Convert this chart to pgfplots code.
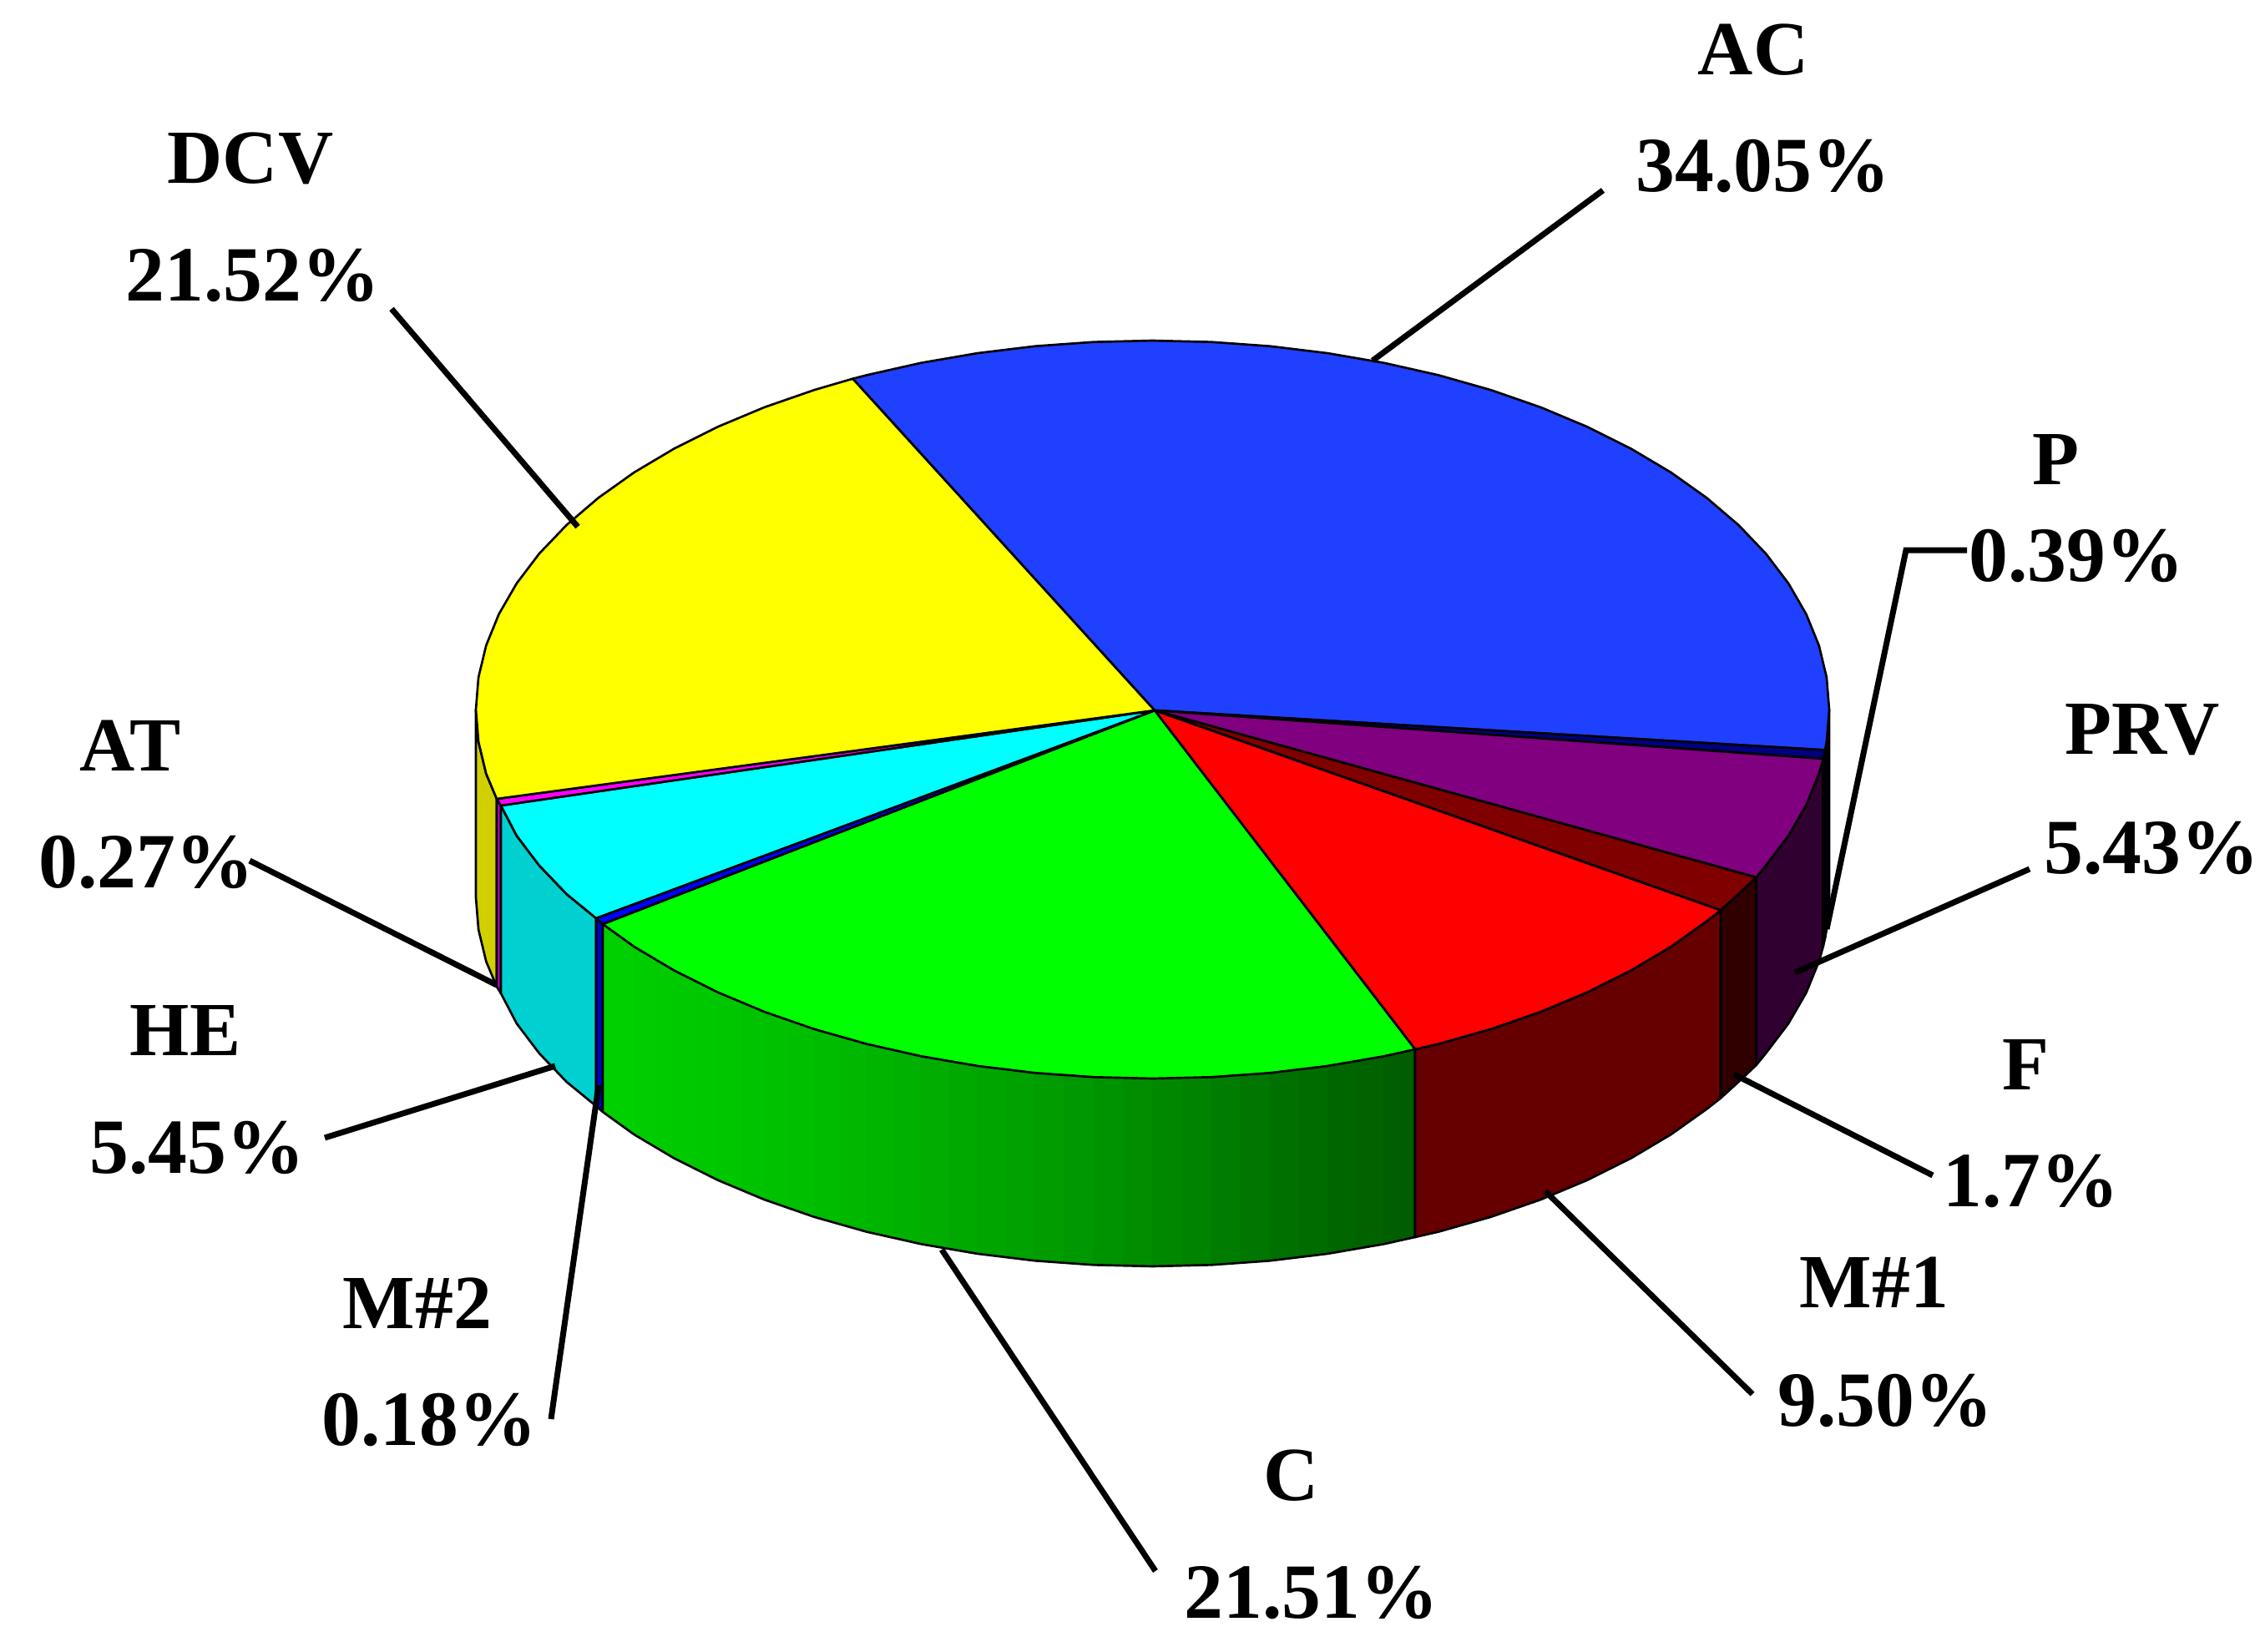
\documentclass[border=0pt]{standalone}
\usepackage{pgfplots}
\pgfplotsset{compat=1.18}
\usepackage{fontspec}
\setmainfont{Liberation Serif}
\definecolor{cAC}{RGB}{32,64,255}
\definecolor{cDCV}{RGB}{255,255,0}
\definecolor{cAT}{RGB}{255,0,255}
\definecolor{cHE}{RGB}{0,255,255}
\definecolor{cM2}{RGB}{0,0,255}
\definecolor{cC}{RGB}{0,255,0}
\definecolor{cM1}{RGB}{255,0,0}
\definecolor{cF}{RGB}{128,0,0}
\definecolor{cPRV}{RGB}{128,0,128}
\definecolor{cP}{RGB}{0,0,128}
\definecolor{sAC}{RGB}{0,0,16}
\definecolor{sDCV}{RGB}{208,208,0}
\definecolor{sAT}{RGB}{204,0,204}
\definecolor{sHE}{RGB}{0,208,208}
\definecolor{sM2}{RGB}{0,0,200}
\definecolor{sM1}{RGB}{102,0,0}
\definecolor{sF}{RGB}{48,0,0}
\definecolor{sPRV}{RGB}{48,0,48}
\definecolor{sP}{RGB}{0,0,48}
\pgfplotsset{
  face/.style={fill=#1,draw=black,line width=0.8pt,line join=round},
  strip/.style={fill=green!#1!black,draw=green!#1!black,line width=0.3pt},
  leader/.style={draw=black,line width=2.1pt},
  thin outline/.style={draw=black,line width=0.8pt,line join=round}
}
\newcommand{\lab}[3]{\node[font=\bfseries\fontsize{27.5}{30}\selectfont,inner sep=0pt,anchor=center] at (axis cs:#1,#2) {#3};}
\newcommand{\labn}[3]{\node[font=\bfseries\fontsize{28.1}{30}\selectfont,inner sep=0pt,anchor=center] at (axis cs:#1,#2) {#3};}
\begin{document}
\begin{tikzpicture}
\begin{axis}[
  scale only axis,width=813.9pt,height=593.7pt,
  xmin=0,xmax=2713,ymin=0,ymax=1979,y dir=reverse,
  axis line style={draw=none},xtick=\empty,ytick=\empty,clip=false]
% side faces
\addplot[face=sDCV] coordinates {(570,850)(573.1,888.5)(582.3,926.8)(595,957)(595,1182)(582.3,1151.8)(573.1,1113.5)(570,1075)} --cycle;
\addplot[face=sAT] coordinates {(595,957)(600,965)(600,1190)(595,1182)} --cycle;
\addplot[face=sHE] coordinates {(600,965)(618.9,1001.2)(645.9,1036.8)(678.6,1071)(714,1100)(714,1325)(678.6,1296)(645.9,1261.8)(618.9,1226.2)(600,1190)} --cycle;
\addplot[face=sM2] coordinates {(714,1100)(722,1107)(722,1332)(714,1325)} --cycle;
% C side, shaded in strips
\addplot[strip=81.7] coordinates {(722,1107)(740.8,1120.55)(740.8,1345.55)(722,1332)} --cycle;
\addplot[strip=81.2] coordinates {(740.8,1120.55)(759.6,1134.1)(759.6,1359.1)(740.8,1345.55)} --cycle;
\addplot[strip=80.5] coordinates {(759.6,1134.1)(783.5,1148.3)(783.5,1373.3)(759.6,1359.1)} --cycle;
\addplot[strip=79.8] coordinates {(783.5,1148.3)(807.4,1162.5)(807.4,1387.5)(783.5,1373.3)} --cycle;
\addplot[strip=79] coordinates {(807.4,1162.5)(833.45,1175.55)(833.45,1400.55)(807.4,1387.5)} --cycle;
\addplot[strip=78.3] coordinates {(833.45,1175.55)(859.5,1188.6)(859.5,1413.6)(833.45,1400.55)} --cycle;
\addplot[strip=77.5] coordinates {(859.5,1188.6)(887.55,1200.35)(887.55,1425.35)(859.5,1413.6)} --cycle;
\addplot[strip=76.6] coordinates {(887.55,1200.35)(915.6,1212.1)(915.6,1437.1)(887.55,1425.35)} --cycle;
\addplot[strip=75.8] coordinates {(915.6,1212.1)(945.4,1222.45)(945.4,1447.45)(915.6,1437.1)} --cycle;
\addplot[strip=74.9] coordinates {(945.4,1222.45)(975.2,1232.8)(975.2,1457.8)(945.4,1447.45)} --cycle;
\addplot[strip=73.6] coordinates {(975.2,1232.8)(1006.6,1241.7)(1006.6,1466.7)(975.2,1457.8)} --cycle;
\addplot[strip=72.2] coordinates {(1006.6,1241.7)(1038,1250.6)(1038,1475.6)(1006.6,1466.7)} --cycle;
\addplot[strip=70.8] coordinates {(1038,1250.6)(1070.65,1257.95)(1070.65,1482.95)(1038,1475.6)} --cycle;
\addplot[strip=69.3] coordinates {(1070.65,1257.95)(1103.3,1265.3)(1103.3,1490.3)(1070.65,1482.95)} --cycle;
\addplot[strip=67.8] coordinates {(1103.3,1265.3)(1137,1271.1)(1137,1496.1)(1103.3,1490.3)} --cycle;
\addplot[strip=66.2] coordinates {(1137,1271.1)(1170.7,1276.9)(1170.7,1501.9)(1137,1496.1)} --cycle;
\addplot[strip=64.7] coordinates {(1170.7,1276.9)(1205.25,1281.1)(1205.25,1506.1)(1170.7,1501.9)} --cycle;
\addplot[strip=63.1] coordinates {(1205.25,1281.1)(1239.8,1285.3)(1239.8,1510.3)(1205.25,1506.1)} --cycle;
\addplot[strip=61.3] coordinates {(1239.8,1285.3)(1274.85,1287.8)(1274.85,1512.8)(1239.8,1510.3)} --cycle;
\addplot[strip=59.5] coordinates {(1274.85,1287.8)(1309.9,1290.3)(1309.9,1515.3)(1274.85,1512.8)} --cycle;
\addplot[strip=57.6] coordinates {(1309.9,1290.3)(1345.2,1291.15)(1345.2,1516.15)(1309.9,1515.3)} --cycle;
\addplot[strip=55.7] coordinates {(1345.2,1291.15)(1380.5,1292)(1380.5,1517)(1345.2,1516.15)} --cycle;
\addplot[strip=53.8] coordinates {(1380.5,1292)(1415.8,1291.15)(1415.8,1516.15)(1380.5,1517)} --cycle;
\addplot[strip=51.6] coordinates {(1415.8,1291.15)(1451.1,1290.3)(1451.1,1515.3)(1415.8,1516.15)} --cycle;
\addplot[strip=49.1] coordinates {(1451.1,1290.3)(1486.15,1287.8)(1486.15,1512.8)(1451.1,1515.3)} --cycle;
\addplot[strip=46.6] coordinates {(1486.15,1287.8)(1521.2,1285.3)(1521.2,1510.3)(1486.15,1512.8)} --cycle;
\addplot[strip=44.1] coordinates {(1521.2,1285.3)(1555.75,1281.1)(1555.75,1506.1)(1521.2,1510.3)} --cycle;
\addplot[strip=42.3] coordinates {(1555.75,1281.1)(1590.3,1276.9)(1590.3,1501.9)(1555.75,1506.1)} --cycle;
\addplot[strip=40.5] coordinates {(1590.3,1276.9)(1624,1271.1)(1624,1496.1)(1590.3,1501.9)} --cycle;
\addplot[strip=38.7] coordinates {(1624,1271.1)(1657.7,1265.3)(1657.7,1490.3)(1624,1496.1)} --cycle;
\addplot[strip=37.3] coordinates {(1657.7,1265.3)(1676.35,1261.15)(1676.35,1486.15)(1657.7,1490.3)} --cycle;
\addplot[strip=36.3] coordinates {(1676.35,1261.15)(1695,1257)(1695,1482)(1676.35,1486.15)} --cycle;
\addplot[thin outline] coordinates {(722,1107)(722,1332)(759.6,1359.1)(807.4,1387.5)(859.5,1413.6)(915.6,1437.1)(975.2,1457.8)(1038,1475.6)(1103.3,1490.3)(1170.7,1501.9)(1239.8,1510.3)(1309.9,1515.3)(1380.5,1517)(1451.1,1515.3)(1521.2,1510.3)(1590.3,1501.9)(1657.7,1490.3)(1695,1482)(1695,1257)};
\addplot[face=sM1] coordinates {(1695,1257)(1723,1250.6)(1785.8,1232.8)(1845.4,1212.1)(1901.5,1188.6)(1953.6,1162.5)(2001.4,1134.1)(2044.4,1103.5)(2061,1090.5)(2061,1315.5)(2044.4,1328.5)(2001.4,1359.1)(1953.6,1387.5)(1901.5,1413.6)(1845.4,1437.1)(1785.8,1457.8)(1723,1475.6)(1695,1482)} --cycle;
\addplot[face=sF] coordinates {(2061,1090.5)(2082.4,1071)(2103.5,1051)(2103.5,1276)(2082.4,1296)(2061,1315.5)} --cycle;
\addplot[face=sPRV] coordinates {(2103.5,1051)(2115.1,1036.8)(2142.1,1001.2)(2163.4,964.4)(2178.7,926.8)(2183.7,909)(2183.7,1134)(2178.7,1151.8)(2163.4,1189.4)(2142.1,1226.2)(2115.1,1261.8)(2103.5,1276)} --cycle;
\addplot[face=sP] coordinates {(2183.7,909)(2186.1,898.5)(2186.1,1123.5)(2183.7,1134)} --cycle;
\addplot[face=sAC] coordinates {(2186.1,898.5)(2187.9,888.5)(2191,850)(2191,1075)(2187.9,1113.5)(2186.1,1123.5)} --cycle;
% top faces
\addplot[face=cAC] coordinates {(1383,851)(1021.4,453.7)(1038,449.4)(1103.3,434.7)(1170.7,423.1)(1239.8,414.7)(1309.9,409.7)(1380.5,408)(1451.1,409.7)(1521.2,414.7)(1590.3,423.1)(1657.7,434.7)(1723,449.4)(1785.8,467.2)(1845.4,487.9)(1901.5,511.4)(1953.6,537.5)(2001.4,565.9)(2044.4,596.5)(2082.4,629)(2115.1,663.2)(2142.1,698.8)(2163.4,735.6)(2178.7,773.2)(2187.9,811.5)(2191,850)(2187.9,888.5)(2186.1,898.5)} --cycle;
\addplot[face=cP] coordinates {(1383,851)(2186.1,898.5)(2183.7,909)} --cycle;
\addplot[face=cPRV] coordinates {(1383,851)(2183.7,909)(2178.7,926.8)(2163.4,964.4)(2142.1,1001.2)(2115.1,1036.8)(2103.5,1051)} --cycle;
\addplot[face=cF] coordinates {(1383,851)(2103.5,1051)(2082.4,1071)(2061,1090.5)} --cycle;
\addplot[face=cM1] coordinates {(1383,851)(2061,1090.5)(2044.4,1103.5)(2001.4,1134.1)(1953.6,1162.5)(1901.5,1188.6)(1845.4,1212.1)(1785.8,1232.8)(1723,1250.6)(1695,1257)} --cycle;
\addplot[face=cC] coordinates {(1383,851)(1695,1257)(1657.7,1265.3)(1590.3,1276.9)(1521.2,1285.3)(1451.1,1290.3)(1380.5,1292)(1309.9,1290.3)(1239.8,1285.3)(1170.7,1276.9)(1103.3,1265.3)(1038,1250.6)(975.2,1232.8)(915.6,1212.1)(859.5,1188.6)(807.4,1162.5)(759.6,1134.1)(722,1107)} --cycle;
\addplot[face=cM2] coordinates {(1383,851)(722,1107)(714,1100)} --cycle;
\addplot[face=cHE] coordinates {(1383,851)(714,1100)(678.6,1071)(645.9,1036.8)(618.9,1001.2)(600,965)} --cycle;
\addplot[face=cAT] coordinates {(1383,851)(600,965)(595,957)} --cycle;
\addplot[face=cDCV] coordinates {(1383,851)(595,957)(582.3,926.8)(573.1,888.5)(570,850)(573.1,811.5)(582.3,773.2)(597.6,735.6)(618.9,698.8)(645.9,663.2)(678.6,629)(716.6,596.5)(759.6,565.9)(807.4,537.5)(859.5,511.4)(915.6,487.9)(975.2,467.2)(1021.4,453.7)} --cycle;
% leader lines
\addplot[leader] coordinates {(1920,228)(1644,432)};
\addplot[leader] coordinates {(469,370)(692,631)};
\addplot[leader] coordinates {(2356,659)(2283,659)(2188,1113)};
\addplot[leader] coordinates {(2431,1041)(2150,1165)};
\addplot[leader] coordinates {(2315,1408)(2077,1287)};
\addplot[leader] coordinates {(2099,1670)(1851,1427)};
\addplot[leader] coordinates {(1384,1882)(1128,1497)};
\addplot[leader] coordinates {(660,1700)(717,1300)};
\addplot[leader] coordinates {(389,1363)(665,1277)};
\addplot[leader] coordinates {(299,1031)(595,1180)};
% labels
\lab{2100}{60}{AC}
\labn{2112}{199}{34.05\%}
\lab{300}{190}{DCV}
\labn{303}{330}{21.52\%}
\lab{2462}{550}{P}
\labn{2487}{666}{0.39\%}
\lab{2566}{874}{PRV}
\labn{2577}{1016}{5.43\%}
\lab{156}{893}{AT}
\labn{175}{1033}{0.27\%}
\lab{222}{1234}{HE}
\labn{236}{1375}{5.45\%}
\lab{2426}{1275}{F}
\labn{2433}{1415}{1.7\%}
\lab{2245}{1536}{M\#1}
\labn{2258}{1678}{9.50\%}
\lab{500}{1561}{M\#2}
\labn{514}{1701}{0.18\%}
\lab{1547}{1768}{C}
\labn{1571}{1908}{21.51\%}
\end{axis}
\end{tikzpicture}
\end{document}
